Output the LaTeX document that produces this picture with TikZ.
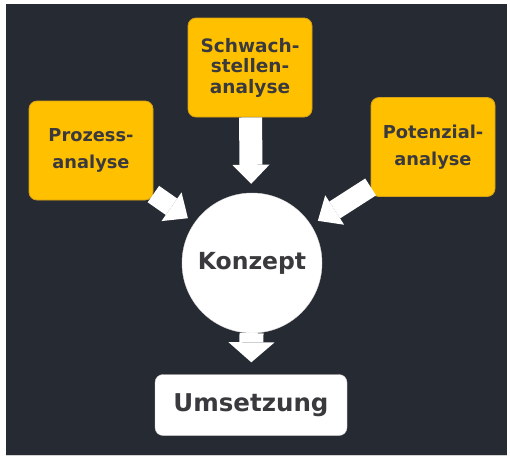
\documentclass[tikz,border=0pt]{standalone}
\usepackage{fontspec}
\setmainfont{DejaVu Sans}
\usetikzlibrary{arrows.meta}
\definecolor{board}{RGB}{38,42,51}
\definecolor{amber}{RGB}{255,192,0}
\definecolor{amberline}{RGB}{214,160,20}
\definecolor{ink}{RGB}{58,58,62}
\tikzset{
  analysis/.style={draw=amberline, fill=amber, rounded corners=8pt, line width=0.8pt,
    minimum width=124pt, minimum height=99pt, align=center, text=ink,
    font=\bfseries\fontsize{17.8}{27}\selectfont},
  fatarrow/.style={draw=white, line width=#1},
}
\begin{document}
\begin{tikzpicture}[x=1pt,y=-1pt]
\useasboundingbox (0,0) rectangle (510,459);
\fill[white] (0,0) rectangle (510,459);
\fill[board] (6,4) rectangle (507,455);
\draw[gray!35, line width=1.5pt] (6,455.5) -- (507,455.5);

\node[circle, fill=white, draw=gray!30, minimum size=140pt, inner sep=0pt, text=ink,
  font=\bfseries\fontsize{23.5}{28}\selectfont] (konzept) at (252,263) {Konzept};
\node[analysis] (prozess) at (91,150.5) {Prozess-\\analyse};
\node[analysis, font=\bfseries\fontsize{18.5}{20.5}\selectfont] (schwach) at (250,67.5) {Schwach-\\stellen-\\analyse};
\node[analysis] (potenzial) at (433,147) {Potenzial-\\analyse};
\node[draw=gray!40, fill=white, rounded corners=8pt, minimum width=192pt, minimum height=61pt,
  text=ink, font=\bfseries\fontsize{24.5}{28}\selectfont] (umsetzung) at (251,405) {Umsetzung};

\draw[fatarrow=23pt, -{Triangle[length=19pt,width=37pt,line width=0pt]}, shorten >=9pt] (schwach) -- (konzept);
\draw[fatarrow=20pt, -{Triangle[length=20pt,width=35pt,line width=0pt]}, shorten >=8pt] (prozess) -- (konzept);
\draw[fatarrow=20pt, -{Triangle[length=20pt,width=35pt,line width=0pt]}, shorten >=8pt] (potenzial) -- (konzept);
\draw[fatarrow=24pt, -{Triangle[length=20pt,width=46pt,line width=0pt]}, shorten >=12pt] (konzept) -- (umsetzung);
\end{tikzpicture}
\end{document}
